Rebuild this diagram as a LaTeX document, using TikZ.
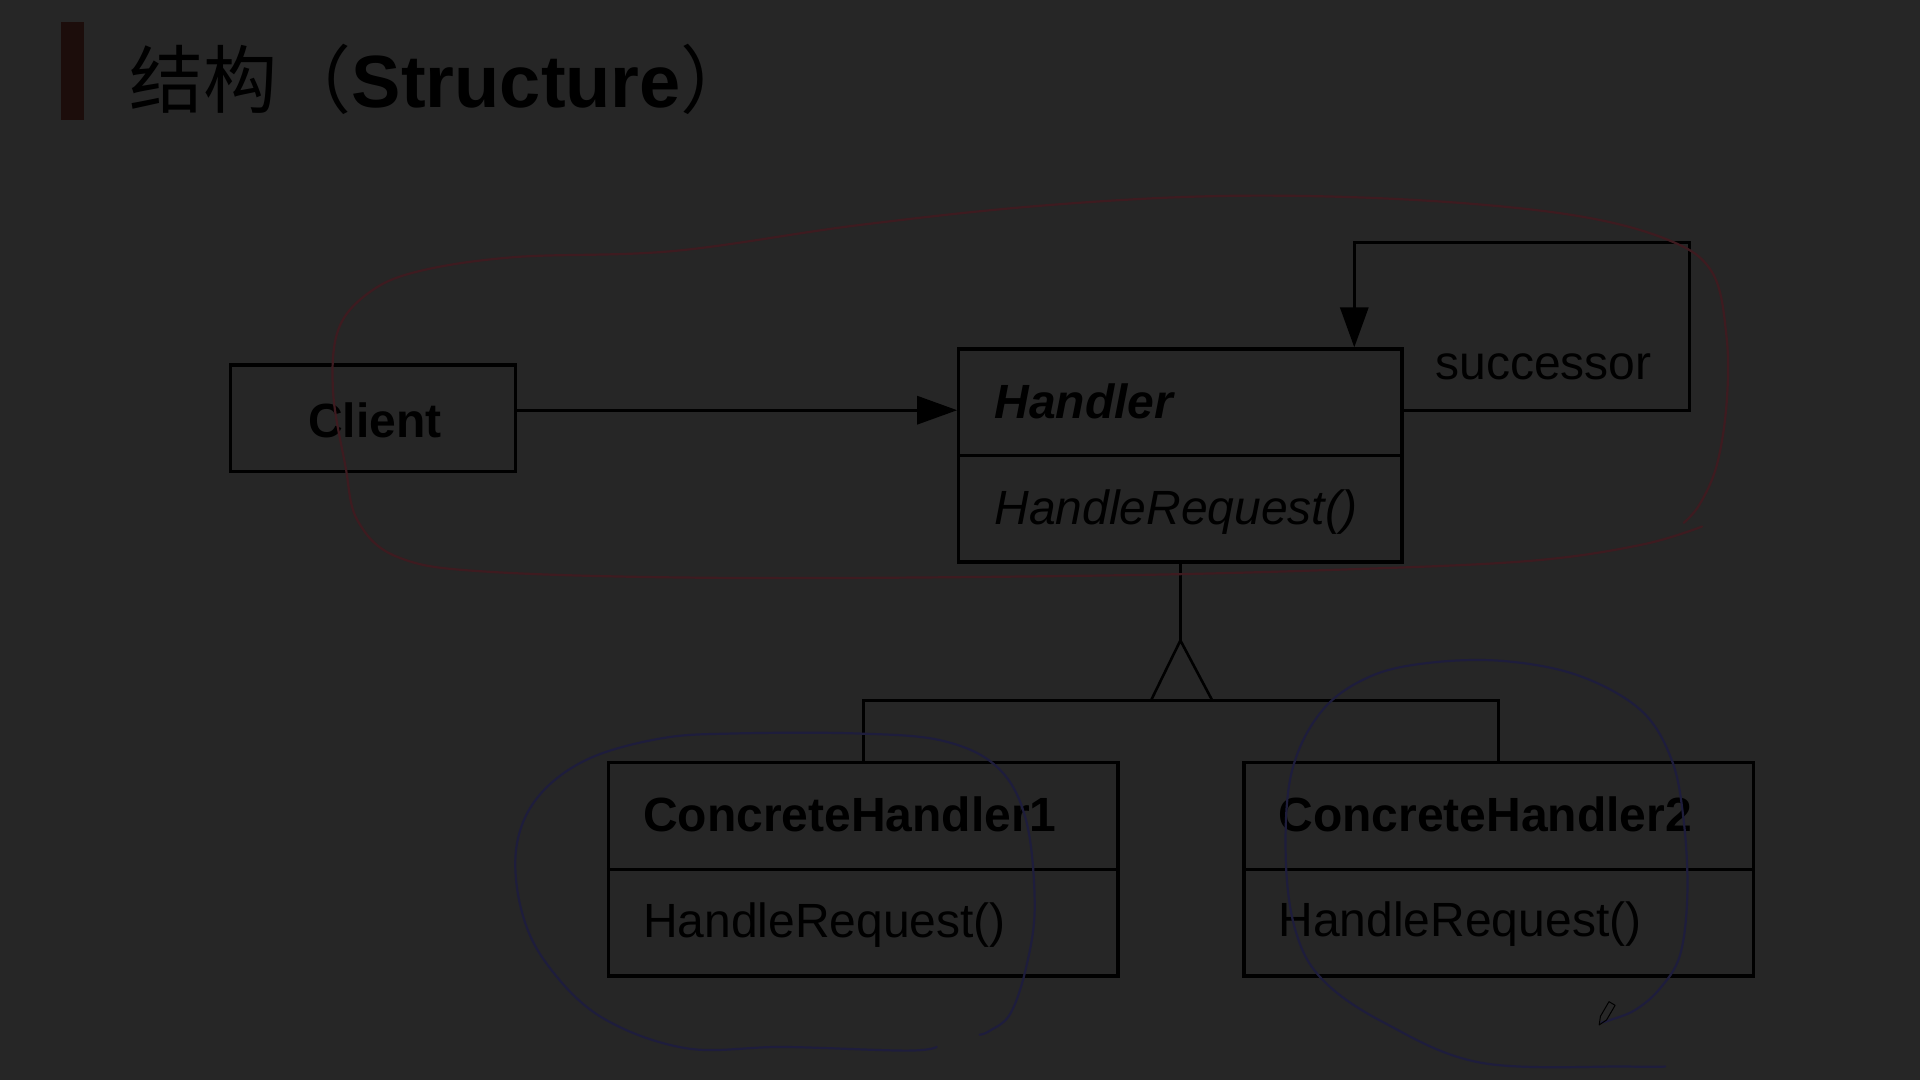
\documentclass[tikz,border=0pt]{standalone}
\usepackage{fontspec}
\setmainfont{Liberation Sans}
\newfontfamily\cjk{Noto Sans CJK SC}
\usetikzlibrary{arrows.meta}
\definecolor{bg}{HTML}{262626}
\definecolor{barred}{HTML}{1C0D0B}
\definecolor{inkred}{HTML}{3E1B20}
\definecolor{inkblue}{HTML}{1E1D3C}
\tikzset{
  umlbox/.style={draw=black, line width=3.2pt, inner sep=0pt},
  lbl/.style={anchor=base west, inner sep=0pt, text=black, font=\fontsize{48}{56}\selectfont},
  conn/.style={draw=black, line width=3.2pt},
  arr/.style={conn, -{Triangle[length=40pt,width=28pt]}},
  ink/.style={line width=2.2pt, line cap=round, line join=round}
}
\begin{document}
\begin{tikzpicture}[x=1.2245pt,y=-1.2245pt]
\fill[bg] (0,0) rectangle (1568,882);
\useasboundingbox (0,0) rectangle (1568,882);
% title
\fill[barred] (50,18) rectangle (69,98);
\node[anchor=base west, inner sep=0pt, text=black, font=\fontsize{74}{80}\selectfont] (title) at (106,88) {{\cjk 结构（}\textbf{Structure}{\cjk ）}};
% boxes
\node[umlbox, minimum width=285.3pt, minimum height=106.5pt] (client) at (304.5,341.5) {};
\node[lbl, anchor=base, font=\fontsize{48}{56}\selectfont\bfseries] (clientt) at (306,357) {Client};
\node[umlbox, minimum width=443.3pt, minimum height=213.1pt] (handler) at (964,372) {};
\draw[conn] (handler.west) -- (handler.east);
\node[lbl, font=\fontsize{48}{56}\selectfont\bfseries\itshape] (handlert) at (812,342) {Handler};
\node[lbl, font=\fontsize{48}{56}\selectfont\itshape] (handlerm) at (812,428) {HandleRequest()};
\node[umlbox, minimum width=509.4pt, minimum height=213.1pt] (ch1) at (705,710) {};
\draw[conn] (ch1.west) -- (ch1.east);
\node[lbl, font=\fontsize{48}{56}\selectfont\bfseries] (ch1t) at (525,679) {ConcreteHandler1};
\node[lbl] (ch1m) at (525,766) {HandleRequest()};
\node[umlbox, minimum width=509.4pt, minimum height=213.1pt] (ch2) at (1224,710) {};
\draw[conn] (ch2.west) -- (ch2.east);
\node[lbl, font=\fontsize{48}{56}\selectfont\bfseries] (ch2t) at (1044,679) {ConcreteHandler2};
\node[lbl] (ch2m) at (1044,765) {HandleRequest()};
% client -> handler
\coordinate (ha) at (handler.west |- 0,335);
\draw[arr] (client.east |- ha) -- (ha);
% successor self loop
\coordinate (hr) at (handler.east |- 0,335);
\coordinate (c1) at (1380,335);
\coordinate (c2) at (1380,198);
\coordinate (c3) at (1106,198);
\coordinate (ht) at (handler.north -| c3);
\draw[arr] (hr) -- (c1) -- (c2) -- (c3) -- (ht);
\node[lbl, font=\fontsize{48}{56}\selectfont] (succ) at (1172,310) {successor};
% inheritance
\coordinate (apex) at (964,523);
\coordinate (tl) at (940,572);
\coordinate (tr) at (990,572);
\draw[conn] (handler.south) -- (apex);
\draw[conn, line width=2.6pt, line join=miter] (tl) -- (apex) -- (tr);
\coordinate (b1) at (ch1.north |- tl);
\coordinate (b2) at (ch2.north |- tl);
\draw[conn] (ch1.north) -- (b1) -- (b2) -- (ch2.north);
% hand-drawn annotations
\draw[ink, draw=inkred] plot[smooth, tension=0.6] coordinates {(1390,430) (1340,445) (1250,458) (1100,465) (900,470) (600,472) (400,467) (325,455) (292,425) (282,380) (272,320) (276,270) (300,240) (340,222) (420,210) (550,205) (700,184) (850,168) (1000,160) (1150,163) (1280,175) (1360,195) (1398,222) (1410,275) (1410,330) (1402,380) (1388,412) (1375,427)};
\draw[ink, draw=inkblue] plot[smooth, tension=0.6] coordinates {(765,855) (740,858) (640,855) (560,856) (490,830) (445,785) (425,740) (422,690) (440,650) (480,620) (540,603) (600,599) (700,599) (770,605) (815,627) (838,670) (845,740) (838,790) (825,828) (808,842) (800,845)};
\draw[ink, draw=inkblue] plot[smooth, tension=0.6] coordinates {(1360,871) (1330,871) (1210,868) (1130,835) (1080,800) (1058,760) (1050,700) (1055,630) (1080,580) (1120,552) (1170,541) (1230,540) (1290,552) (1340,580) (1365,620) (1375,670) (1378,730) (1372,780) (1355,808) (1335,825) (1315,833) (1308,835)};
% pen cursor
\draw[black, line width=1pt, line join=round] (1306,837) -- (1307,830) -- (1314,818) -- (1319,821) -- (1312,833) -- cycle;
\end{tikzpicture}
\end{document}
